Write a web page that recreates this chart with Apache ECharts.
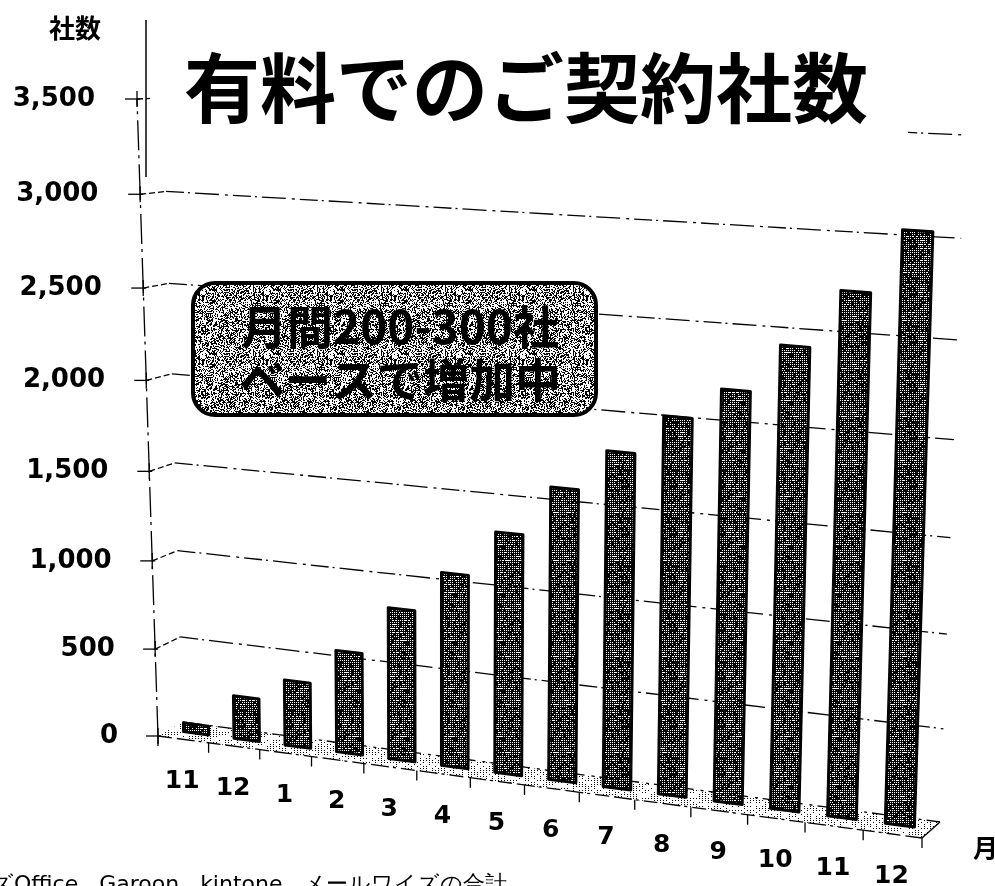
<!DOCTYPE html>
<html><head><meta charset="utf-8">
<style>html,body{margin:0;padding:0;background:#fff}#c{width:995px;height:886px}</style>
<script src="https://cdn.jsdelivr.net/npm/echarts@6/dist/echarts.min.js"></script>
</head><body><div id="c"></div>
<script>
var months = ['11','12','1','2','3','4','5','6','7','8','9','10','11','12'];
var contracts = [50,240,365,565,835,1060,1310,1580,1800,2010,2175,2425,2725,3050];
var yTicks = [0,500,1000,1500,2000,2500,3000,3500];
var titleText = '有料でのご契約社数';
var calloutLines = '月間200-300社\nベースで増加中';
var footnote = 'ズOffice   Garoon   kintone   メールワイズの合計';

// perspective planes of the 3-D look: the flat axes are mapped on to these quads [BL,BR,TR,TL]
function homography(q){
  var x0=q[3][0],y0=q[3][1],x1=q[2][0],y1=q[2][1],x2=q[1][0],y2=q[1][1],x3=q[0][0],y3=q[0][1];
  var dx1=x1-x2,dx2=x3-x2,sx=x0-x1+x2-x3,dy1=y1-y2,dy2=y3-y2,sy=y0-y1+y2-y3;
  var d=dx1*dy2-dx2*dy1,g=(sx*dy2-dx2*sy)/d,h=(dx1*sy-sx*dy1)/d;
  var a=x1-x0+g*x1,b=x3-x0+h*x3,c=x0,e=y1-y0+g*y1,f=y3-y0+h*y3,k=y0;
  return function(s,t){var v=1-t,w=g*s+h*v+1;return [(a*s+b*v+c)/w,(e*s+f*v+k)/w];};
}
var frontPlane = homography([[158,736],[922,838],[945,150],[137,99]]);
var backPlane  = homography([[183,722],[940,822],[965,135],[163,98]]);
var barPlane   = homography([[171,730],[929,829],[951,141],[160,92]]);

var GW=900,GH=800;
function toUnit(api,cat,val){var p=api.coord([cat,val]);return [p[0]/GW,1-p[1]/GH];}
function halfBand(api){return api.size([1,0])[0]/GW/2;}
function poly(pts,style,z2){return {type:'polygon',shape:{points:pts},style:style,z2:z2||0};}
function line(pts,style){return {type:'polyline',shape:{points:pts},style:style};}

function noise(x,y,n){return (((x*73856093)^(y*19349663))>>>0)%n;}
function tile(w,h,isWhite){
  var c=document.createElement('canvas');c.width=w;c.height=h;
  var g=c.getContext('2d');g.clearRect(0,0,w,h);g.fillStyle='#000';g.fillRect(0,0,w,h);g.fillStyle='#fff';
  for(var y=0;y<h;y++)for(var x=0;x<w;x++)if(isWhite(x,y))g.fillRect(x,y,1,1);
  return {image:c,repeat:'repeat'};
}
var barFill = tile(48,48,function(x,y){return x%2==0&&y%2==0&&noise(x,y,100)<75 || (y%4==0&&noise(x+3,y,100)<18);});
var boxFill = tile(64,64,function(x,y){return noise(x,y,100)<55;});
var floorFill = tile(48,48,function(x,y){return !(x%3==0&&y%2==0&&noise(x,y,100)<60);});
var dash1=[18,4,2,5,24,6,3,5], ink={stroke:'#000',fill:null,lineWidth:1.3};
function dashed(d){return {stroke:'#000',fill:null,lineWidth:1.3,lineDash:d||dash1};}

var option={
  animation:false,
  backgroundColor:'#fff',
  title:{text:titleText,left:150,top:38,padding:[12,40,14,34],backgroundColor:'#fff',z:20,
    textStyle:{fontFamily:'"Noto Sans CJK JP"',fontWeight:'bold',fontSize:76,color:'#000'}},
  grid:{left:0,top:0,width:GW,height:GH,show:false},
  xAxis:{type:'category',data:months.map(function(m,i){return i+':'+m;}),show:false},
  yAxis:{type:'value',min:0,max:3500,interval:500,show:false},
  series:[
   {type:'custom',name:'floor',z:1,data:[[0,0]],coordinateSystem:'cartesian2d',silent:true,
    renderItem:function(p,api){
      var kids=[],pts=[frontPlane(0,0),frontPlane(1,0),backPlane(1,0),backPlane(0,0)];
      kids.push(poly(pts,{fill:floorFill}));
      kids.push(line([pts[0],pts[1]],dashed([14,5,18,4,3,5])));
      kids.push(line([pts[3],pts[2]],dashed([20,7,3,5,14,6])));
      kids.push(line([pts[1],pts[2]],ink));
      for(var i=0;i<=months.length;i++){
        var a=frontPlane(i/months.length,0);
        kids.push(line([a,[a[0],a[1]+10]],ink));
      }
      return {type:'group',children:kids};
    }},
   {type:'custom',name:'gridlines',z:2,data:yTicks.map(function(v){return [0,v];}),silent:true,
    renderItem:function(p,api){
      var t=toUnit(api,0,api.value(1))[1],f=frontPlane(0,t),b=backPlane(0,t),e=backPlane(1,t);
      var kids=[line([[f[0]-12,f[1]],[f[0]+3,f[1]]],ink),line([[f[0],f[1]-8],[f[0],f[1]+8]],ink)];
      if(t>0){
        kids.push(line([f,b],dashed([6,3])));
        kids.push(line([b,e],dashed()));
      }
      if(t<0.99){kids.push(line([f,frontPlane(0,t+500/3500)],dashed([30,6,3,5])));}
      return {type:'group',children:kids};
    }},
   {type:'custom',name:'有料契約社数',z:3,silent:true,
    data:contracts.map(function(v,i){return [i,v];}),
    renderItem:function(p,api){
      var i=api.value(0),u=toUnit(api,i,api.value(1)),hb=halfBand(api)*0.5;
      var l=u[0]-hb,r=u[0]+hb,t=u[1];
      var front=[barPlane(l,0),barPlane(r,0),barPlane(r,t),barPlane(l,t)];
      return poly(front,{fill:barFill,stroke:'#000',lineWidth:3,lineJoin:'round'});
    }},
   {type:'custom',name:'xLabels',z:4,silent:true,
    data:months.map(function(m,i){return [i,0];}),
    renderItem:function(p,api){
      var i=api.value(0),u=toUnit(api,i,0),a=frontPlane(u[0],0);
      return {type:'text',x:a[0]-1,y:a[1]+42,style:{text:months[i],align:'center',verticalAlign:'middle',
        font:'bold 25px "DejaVu Sans"',fill:'#000'}};
    }},
   {type:'custom',name:'yLabels',z:4,silent:true,
    data:yTicks.map(function(v){return [0,v];}),
    renderItem:function(p,api){
      var v=api.value(1),t=toUnit(api,0,v)[1],a=frontPlane(0,t);
      return {type:'text',x:a[0]-40-t*2,y:a[1],style:{text:v.toLocaleString('en-US'),align:'right',verticalAlign:'middle',
        font:'bold 26px "DejaVu Sans"',fill:'#000'}};
    }}
  ],
  graphic:[
   {type:'line',z:30,shape:{x1:146,y1:20,x2:146,y2:177},style:{stroke:'#000',lineWidth:1.5}},
   {type:'text',z:30,x:75,y:28,style:{text:'社数',align:'center',verticalAlign:'middle',font:'bold 26px "Noto Sans CJK JP"',fill:'#000'}},
   {type:'text',z:30,x:973,y:847,style:{text:'月',align:'left',verticalAlign:'middle',font:'bold 25px "Noto Sans CJK JP"',fill:'#000'}},
   {type:'text',z:30,x:-9,y:885,style:{text:footnote,align:'left',verticalAlign:'middle',font:'22px "DejaVu Sans"',fill:'#000'}},
   {type:'rect',z:30,shape:{x:193,y:283,width:403,height:132,r:22},style:{fill:boxFill,stroke:'#000',lineWidth:4}},
   {type:'text',z:31,x:400,y:353,style:{text:calloutLines,align:'center',verticalAlign:'middle',lineHeight:53,
     font:'bold 46px "Noto Sans CJK JP"',fill:'#000'}}
  ]
};
echarts.init(document.getElementById('c')).setOption(option);
</script></body></html>
